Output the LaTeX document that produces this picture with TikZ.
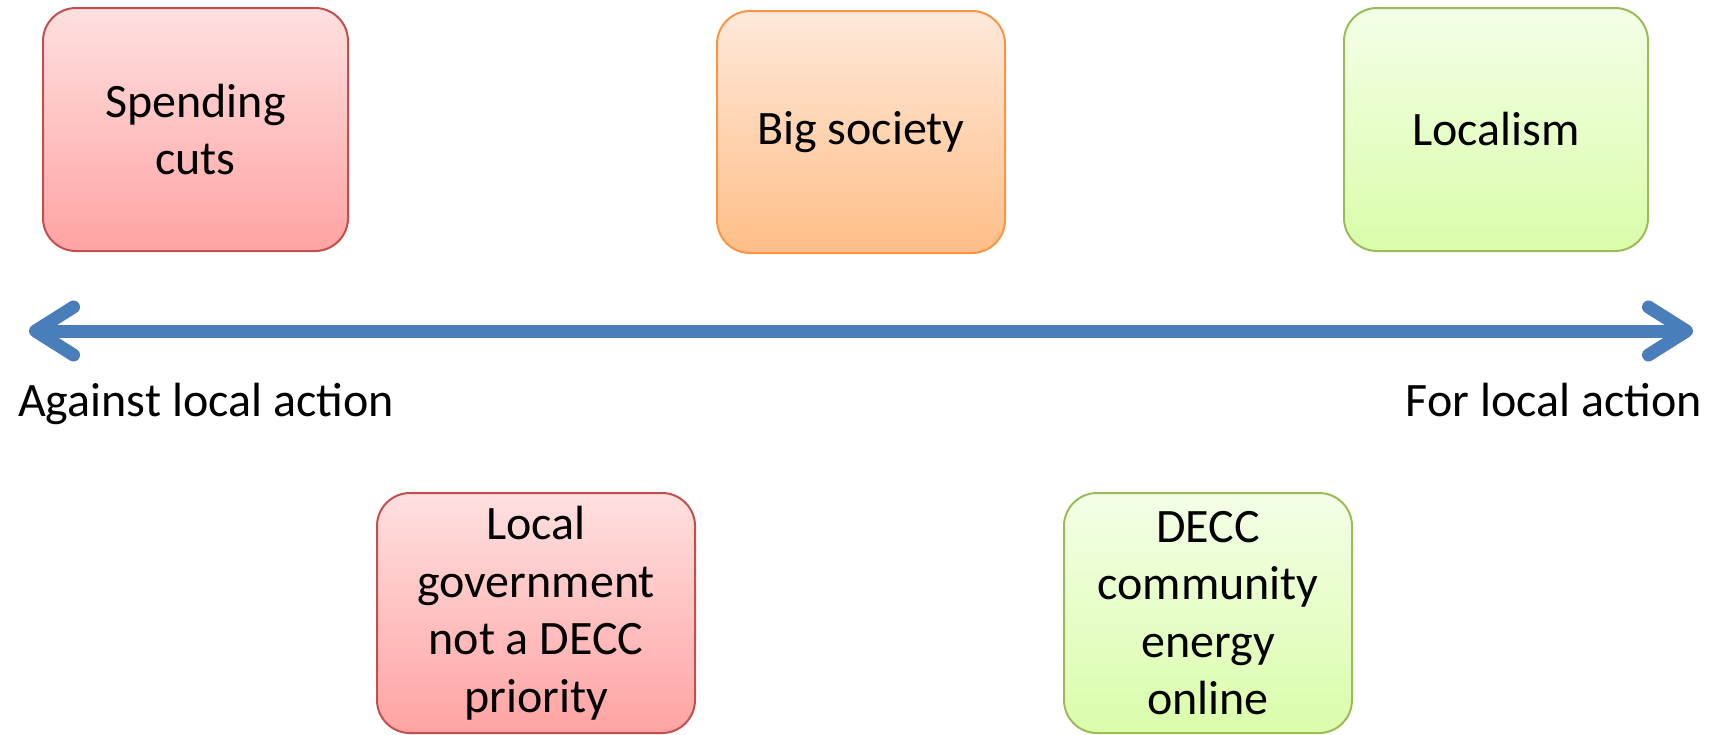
\documentclass[tikz,border=0pt]{standalone}
\usepackage{fontspec}
\setmainfont{Carlito}
\usetikzlibrary{arrows.meta}
\definecolor{RedLineClr}{HTML}{C0504D}
\definecolor{RedTopClr}{HTML}{FFE0E0}
\definecolor{RedBotClr}{HTML}{FFA3A3}
\definecolor{OrangeLineClr}{HTML}{F79646}
\definecolor{OrangeTopClr}{HTML}{FEE9DA}
\definecolor{OrangeBotClr}{HTML}{FFBE88}
\definecolor{GreenLineClr}{HTML}{9BBB59}
\definecolor{GreenTopClr}{HTML}{F4FEE7}
\definecolor{GreenBotClr}{HTML}{DAFDAA}
\definecolor{AxisClr}{HTML}{4A7EBB}

\begin{document}
\begin{tikzpicture}[x=1pt,y=-1pt,
  box/.style={draw,line width=2pt,rounded corners=33pt,inner sep=0pt,
    align=center,font=\fontsize{48}{57.5}\selectfont},
  redbox/.style={box,draw=RedLineClr,top color=RedTopClr,bottom color=RedBotClr},
  orangebox/.style={box,draw=OrangeLineClr,top color=OrangeTopClr,bottom color=OrangeBotClr},
  greenbox/.style={box,draw=GreenLineClr,top color=GreenTopClr,bottom color=GreenBotClr},
  endlabel/.style={inner sep=0pt,font=\fontsize{48}{57.5}\selectfont}]
\useasboundingbox (0,0) rectangle (1716,734);

\node[redbox,minimum width=305pt,minimum height=243pt] (cuts) at (195.5,129.5) {Spending\\cuts};
\node[orangebox,minimum width=288pt,minimum height=242pt] (society) at (861,132) {Big society};
\node[greenbox,minimum width=304pt,minimum height=243pt] (localism) at (1496,129.5) {Localism};

\node[redbox,minimum width=318pt,minimum height=240pt] (localgov) at (536,613) {Local\\government\\not a DECC\\priority};
\node[greenbox,minimum width=288pt,minimum height=240pt] (decc) at (1208,613) {DECC\\community\\energy\\online};

\coordinate (against) at (29,331);
\coordinate (for) at (1693,331);
\draw[AxisClr,line width=13pt,
  {Straight Barb[length=38pt,width=48pt,round]}-{Straight Barb[length=38pt,width=48pt,round]}]
  (against) -- (for);

\node[endlabel,anchor=base west] (againstlbl) at (18,416) {Against local action};
\node[endlabel,anchor=base east] (forlbl) at (1702,416) {For local action};

\end{tikzpicture}
\end{document}
